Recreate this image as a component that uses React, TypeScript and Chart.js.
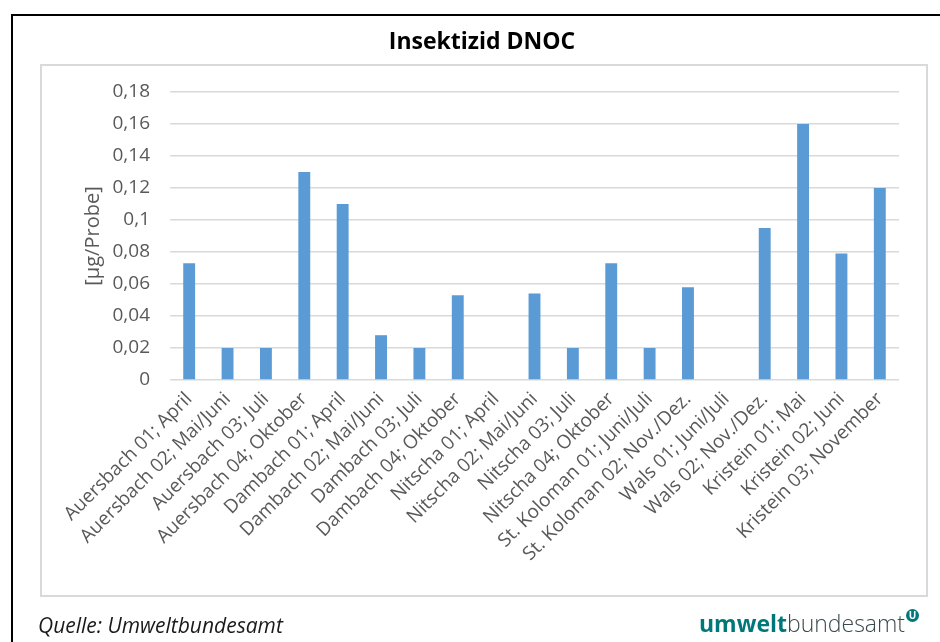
import React, { useEffect, useRef } from "react";
import { Chart, registerables } from "chart.js";

Chart.register(...registerables);

const categories: string[] = [
  "Auersbach 01; April",
  "Auersbach 02; Mai/Juni",
  "Auersbach 03; Juli",
  "Auersbach 04; Oktober",
  "Dambach 01; April",
  "Dambach 02; Mai/Juni",
  "Dambach 03; Juli",
  "Dambach 04; Oktober",
  "Nitscha 01; April",
  "Nitscha 02; Mai/Juni",
  "Nitscha 03; Juli",
  "Nitscha 04; Oktober",
  "St. Koloman 01; Juni/Juli",
  "St. Koloman 02; Nov./Dez.",
  "Wals 01; Juni/Juli",
  "Wals 02; Nov./Dez.",
  "Kristein 01; Mai",
  "Kristein 02; Juni",
  "Kristein 03; November",
];

const dnocValues: (number | null)[] = [
  0.073, 0.02, 0.02, 0.13, 0.11, 0.028, 0.02, 0.053, null, 0.054, 0.02, 0.073,
  0.02, 0.058, null, 0.095, 0.16, 0.079, 0.12,
];

const yTickValues: number[] = [0, 0.02, 0.04, 0.06, 0.08, 0.1, 0.12, 0.14, 0.16, 0.18];

const chartTitle = "Insektizid DNOC";
const yAxisTitle = "[µg/Probe]";
const sourceText = "Quelle: Umweltbundesamt";

const FONT = "'Open Sans', 'Noto Sans', sans-serif";

function formatTick(v: number): string {
  const nearest = yTickValues.reduce((a, b) => (Math.abs(b - v) < Math.abs(a - v) ? b : a));
  return String(Number(nearest.toFixed(2))).replace(".", ",");
}

export default function App() {
  const canvasRef = useRef<HTMLCanvasElement | null>(null);

  useEffect(() => {
    document.body.style.margin = "0";
    const canvas = canvasRef.current;
    if (!canvas) return;
    const chart = new Chart(canvas, {
      type: "bar",
      data: {
        labels: categories,
        datasets: [
          {
            label: chartTitle,
            data: dnocValues,
            backgroundColor: "#5b9bd5",
            borderWidth: 0,
            categoryPercentage: 1,
            barPercentage: 0.31,
          },
        ],
      },
      options: {
        responsive: false,
        animation: false,
        layout: { padding: { left: 65, right: 41, top: 0, bottom: 0 } },
        plugins: {
          legend: { display: false },
          tooltip: { enabled: false },
          title: {
            display: true,
            text: chartTitle,
            color: "#000000",
            font: { family: FONT, size: 23, weight: "bold", lineHeight: 1.2 },
            padding: { top: 29, bottom: 35.4 },
          },
        },
        scales: {
          x: {
            grid: { display: false, drawTicks: false },
            border: { display: false },
            ticks: {
              autoSkip: false,
              minRotation: 45,
              maxRotation: 45,
              padding: 8,
              color: "#595959",
              font: { family: FONT, size: 19 },
            },
            afterFit: (scale: any) => {
              scale.height = 262;
            },
          },
          y: {
            min: 0,
            max: 0.18,
            grid: { color: "#d9d9d9", lineWidth: 1.5, drawTicks: false },
            border: { display: false },
            ticks: {
              stepSize: 0.02,
              padding: 20,
              color: "#595959",
              font: { family: FONT, size: 19 },
              callback: (v: any) => formatTick(Number(v)),
            },
            title: {
              display: true,
              text: yAxisTitle,
              color: "#595959",
              font: { family: FONT, size: 20, lineHeight: 1.2 },
              padding: { top: 16, bottom: 0 },
            },
            afterFit: (scale: any) => {
              scale.width = 105;
            },
          },
        },
      },
    });
    return () => chart.destroy();
  }, []);

  return (
    <div
      style={{
        position: "fixed",
        left: 0,
        top: 0,
        width: 940,
        height: 642,
        background: "#ffffff",
        overflow: "hidden",
      }}
    >
      <canvas
        ref={canvasRef}
        width={940}
        height={642}
        style={{ position: "absolute", left: 0, top: 0, width: 940, height: 642 }}
      />
      <div
        style={{
          position: "absolute",
          left: 11,
          top: 14,
          width: 960,
          height: 660,
          borderLeft: "2px solid #000",
          borderTop: "2px solid #000",
          pointerEvents: "none",
        }}
      />
      <div
        style={{
          position: "absolute",
          left: 40,
          top: 64,
          width: 884,
          height: 529,
          border: "2px solid #d9d9d9",
          pointerEvents: "none",
        }}
      />
      <div
        style={{
          position: "absolute",
          left: 38,
          top: 611,
          fontFamily: FONT,
          fontStyle: "italic",
          fontSize: 21,
          color: "#1a1a1a",
          whiteSpace: "nowrap",
        }}
      >
        {sourceText}
      </div>
      <div
        style={{
          position: "absolute",
          left: 699,
          top: 607,
          fontFamily: FONT,
          fontSize: 23,
          color: "#1f4e50",
          whiteSpace: "nowrap",
          letterSpacing: 0,
        }}
      >
        <span style={{ fontWeight: "bold", color: "#00787a" }}>umwelt</span>
        <span style={{ color: "#3a4a4c", fontWeight: 300 }}>bundesamt</span>
        <span
          style={{
            display: "inline-block",
            width: 13,
            height: 13,
            borderRadius: 7,
            background: "#00787a",
            color: "#fff",
            fontSize: 10,
            fontWeight: "bold",
            lineHeight: "13px",
            textAlign: "center",
            verticalAlign: "top",
            marginTop: 2,
            marginLeft: 1,
          }}
        >
          U
        </span>
      </div>
    </div>
  );
}
